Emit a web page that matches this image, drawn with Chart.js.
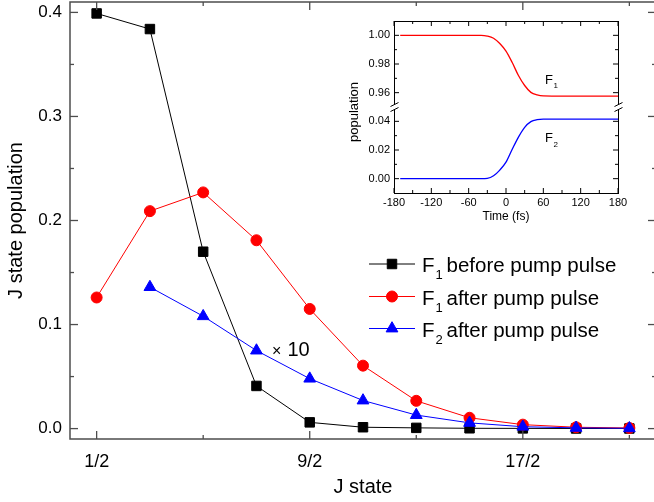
<!DOCTYPE html>
<html><head><meta charset="utf-8">
<script src="https://cdn.jsdelivr.net/npm/chart.js@4/dist/chart.umd.min.js"></script>
<style>
html,body{margin:0;padding:0;background:#fff;overflow:hidden;width:654px;height:502px;}
#wrap{position:relative;width:654px;height:502px;overflow:hidden;}
#main{position:absolute;left:0;top:0;}
#inset{position:absolute;left:340px;top:0;}
</style></head><body>
<div id="wrap"><canvas id="main" width="657" height="502"></canvas><canvas id="inset" width="290" height="232"></canvas></div>
<script>
// ---------- main chart data ----------
const jStates = [0.5, 1.5, 2.5, 3.5, 4.5, 5.5, 6.5, 7.5, 8.5, 9.5, 10.5];
const jTickValues = [0.5, 4.5, 8.5];
const jTickLabels = ['1/2', '9/2', '17/2'];
const jMinorTicks = [2.5, 6.5, 10.5];
const f1Before = [0.399, 0.384, 0.170, 0.041, 0.006, 0.0013, 0.0007, 0.0003, 0.0002, 0.0001, 0.0001];
const f1After  = [0.126, 0.209, 0.227, 0.181, 0.115, 0.0605, 0.0267, 0.0104, 0.0038, 0.0013, 0.0006];
const f2AfterX10 = [null, 0.136, 0.108, 0.075, 0.048, 0.027, 0.013, 0.0055, 0.0018, 0.0007, 0.0003];
const yTicksMain = [0.0, 0.1, 0.2, 0.3, 0.4];
const yMinorMain = [0.05, 0.15, 0.25, 0.35];
const legendSubs = ['1', '1', '2'];
const legendTexts = ['before pump pulse', 'after pump pulse', 'after pump pulse'];

// ---------- inset data ----------
const insetTime = [-170, -60, -40, -30, -20, -10, 0, 10, 20, 30, 40, 50, 60, 80, 120, 180];
const insetF1 = [1.000, 1.000, 1.000, 0.9995, 0.998, 0.9943, 0.989, 0.981, 0.972, 0.965, 0.9602, 0.9584, 0.9577, 0.9576, 0.9576, 0.9576];
const insetF2 = [0.000, 0.000, 0.000, 0.0002, 0.002, 0.006, 0.0115, 0.0205, 0.029, 0.0358, 0.0398, 0.0412, 0.0416, 0.0416, 0.0416, 0.0416];
const insetTimeTicks = [-180, -120, -60, 0, 60, 120, 180];
const insetTimeMinor = [-150, -90, -30, 30, 90, 150];
const insetUpperTicks = [0.96, 0.98, 1.00];
const insetUpperMinor = [0.97, 0.99];
const insetLowerTicks = [0.00, 0.02, 0.04];
const insetLowerMinor = [0.01, 0.03];

const FONT = "'Liberation Sans', Arial, sans-serif";
const pairs = (xs, ys) => xs.map((x, i) => ({x, y: ys[i]})).filter(p => p.y !== null);

function zeroPad(s) { s.paddingTop = 0; s.paddingBottom = 0; s.paddingLeft = 0; s.paddingRight = 0; }
function line(ctx, x1, y1, x2, y2) { ctx.beginPath(); ctx.moveTo(x1, y1); ctx.lineTo(x2, y2); ctx.stroke(); }

function marker(ctx, style, x, y, r, color) {
  ctx.fillStyle = color; ctx.strokeStyle = color; ctx.lineWidth = 1;
  ctx.beginPath();
  if (style === 'rect') { const h = r * Math.SQRT1_2; ctx.rect(x - h, y - h, 2 * h, 2 * h); }
  else if (style === 'circle') { ctx.arc(x, y, r, 0, Math.PI * 2); }
  else { ctx.moveTo(x, y - r); ctx.lineTo(x + r * Math.sqrt(3) / 2, y + r / 2); ctx.lineTo(x - r * Math.sqrt(3) / 2, y + r / 2); ctx.closePath(); }
  ctx.fill(); ctx.stroke();
}

const seriesStyle = [
  {color: '#000000', style: 'rect', r: 6.7},
  {color: '#ff0000', style: 'circle', r: 5.5},
  {color: '#0000ff', style: 'triangle', r: 6.8}
];

const mainDecor = {
  id: 'mainDecor',
  afterDraw(chart) {
    const {ctx, chartArea: a, scales: {x, y}} = chart;
    ctx.save();
    ctx.strokeStyle = '#4d4d4d'; ctx.lineWidth = 1.5;
    ctx.strokeRect(a.left, a.top, a.right - a.left, a.bottom - a.top);
    ctx.lineWidth = 1.3;
    jTickValues.forEach(v => { const p = x.getPixelForValue(v); line(ctx, p, a.bottom, p, a.bottom - 8); line(ctx, p, a.top, p, a.top + 8); });
    jMinorTicks.forEach(v => { const p = x.getPixelForValue(v); line(ctx, p, a.bottom, p, a.bottom - 4); line(ctx, p, a.top, p, a.top + 4); });
    yTicksMain.forEach(v => { const p = y.getPixelForValue(v); line(ctx, a.left, p, a.left + 8, p); line(ctx, a.right, p, a.right - 8, p); });
    yMinorMain.forEach(v => { const p = y.getPixelForValue(v); line(ctx, a.left, p, a.left + 4, p); line(ctx, a.right, p, a.right - 4, p); });

    // legend
    const rows = [264, 296.5, 328.5];
    rows.forEach((ry, i) => {
      const s = seriesStyle[i];
      ctx.strokeStyle = s.color; ctx.lineWidth = 1;
      line(ctx, 369, ry, 415, ry);
      marker(ctx, s.style, 392, ry, s.r, s.color);
      ctx.fillStyle = '#000';
      ctx.textBaseline = 'alphabetic'; ctx.textAlign = 'left';
      ctx.font = '20.5px ' + FONT;
      ctx.fillText('F', 422, ry + 8);
      const fw = ctx.measureText('F').width;
      ctx.font = '13px ' + FONT;
      ctx.fillText(legendSubs[i], 422 + fw + 1, ry + 15);
      ctx.font = '20.5px ' + FONT;
      ctx.fillText(legendTexts[i], 446.5, ry + 8);
    });
    // x10 annotation
    ctx.fillStyle = '#000';
    ctx.font = '16px ' + FONT;
    ctx.fillText('\u00d7', 272, 356);
    ctx.font = '20px ' + FONT;
    ctx.fillText('10', 287.5, 356);
    ctx.restore();
  }
};

new Chart(document.getElementById('main'), {
  type: 'line',
  data: {
    datasets: [
      {label: 'F2 after pump pulse', data: pairs(jStates, f2AfterX10), borderColor: '#0000ff', backgroundColor: '#0000ff',
       pointStyle: 'triangle', pointRadius: 6.8, pointBorderWidth: 1, borderWidth: 1, order: 1},
      {label: 'F1 after pump pulse', data: pairs(jStates, f1After), borderColor: '#ff0000', backgroundColor: '#ff0000',
       pointStyle: 'circle', pointRadius: 5.5, pointBorderWidth: 1, borderWidth: 1, order: 2},
      {label: 'F1 before pump pulse', data: pairs(jStates, f1Before), borderColor: '#000000', backgroundColor: '#000000',
       pointStyle: 'rect', pointRadius: 6.7, pointBorderWidth: 1, borderWidth: 1, order: 3}
    ]
  },
  options: {
    responsive: false, animation: false, devicePixelRatio: 1,
    layout: {padding: {left: 0, top: 2, right: 1, bottom: 0}, autoPadding: false},
    plugins: {legend: {display: false}, tooltip: {enabled: false}},
    scales: {
      x: {
        type: 'linear', min: 0, max: 11,
        grid: {display: false, drawTicks: false}, border: {display: false},
        afterBuildTicks: s => { s.ticks = jTickValues.map(v => ({value: v})); },
        afterFit: s => { s.height = 63; zeroPad(s); },
        ticks: {autoSkip: false, maxRotation: 0, padding: 12, color: '#000', font: {family: FONT, size: 18},
                callback: (v, i) => jTickLabels[i]},
        title: {display: true, text: 'J state', color: '#000', font: {family: FONT, size: 20}, padding: {top: 0, bottom: 3}}
      },
      y: {
        type: 'linear', min: -0.01, max: 0.41,
        grid: {display: false, drawTicks: false}, border: {display: false},
        afterBuildTicks: s => { s.ticks = yTicksMain.map(v => ({value: v})); },
        afterFit: s => { s.width = 70; zeroPad(s); },
        ticks: {padding: 8, color: '#000', font: {family: FONT, size: 17}, callback: v => v.toFixed(1)},
        title: {display: true, text: 'J state population', color: '#000', font: {family: FONT, size: 20}, padding: {top: 4, bottom: 0}}
      }
    }
  },
  plugins: [mainDecor]
});

// ---------- inset ----------
const insetDecor = {
  id: 'insetDecor',
  afterDraw(chart) {
    const {ctx, chartArea: a, scales: {x, yTop, yBot}} = chart;
    ctx.save();
    ctx.strokeStyle = '#000'; ctx.lineWidth = 1;
    ctx.strokeRect(a.left + 0.5, a.top + 0.5, a.right - a.left, a.bottom - a.top);
    insetTimeTicks.forEach(v => { const p = x.getPixelForValue(v); line(ctx, p, a.bottom, p, a.bottom - 5); line(ctx, p, a.top, p, a.top + 5); });
    insetTimeMinor.forEach(v => { const p = x.getPixelForValue(v); line(ctx, p, a.bottom, p, a.bottom - 3); line(ctx, p, a.top, p, a.top + 3); });
    const yt = (sc, vals, len) => vals.forEach(v => { const p = sc.getPixelForValue(v); line(ctx, a.left, p, a.left + len, p); line(ctx, a.right, p, a.right - len, p); });
    yt(yTop, insetUpperTicks, 5); yt(yTop, insetUpperMinor, 3);
    yt(yBot, insetLowerTicks, 5); yt(yBot, insetLowerMinor, 3);
    // break marks
    const by = yTop.bottom;
    [a.left + 0.5, a.right + 0.5].forEach(bx => {
      ctx.fillStyle = '#fff';
      ctx.fillRect(bx - 3, by - 2, 6, 4);
      ctx.strokeStyle = '#000'; ctx.lineWidth = 1;
      line(ctx, bx - 4, by - 0.5, bx + 4, by - 4.5);
      line(ctx, bx - 4, by + 4.5, bx + 4, by + 0.5);
    });
    // labels
    ctx.fillStyle = '#000'; ctx.textAlign = 'left'; ctx.textBaseline = 'alphabetic';
    ctx.font = '13px ' + FONT;
    ctx.fillText('F', 205, 83.5);
    ctx.fillText('F', 205, 142);
    ctx.font = '8px ' + FONT;
    ctx.fillText('1', 213.5, 88);
    ctx.fillText('2', 213.5, 146.5);
    ctx.save();
    ctx.translate(14, 112);
    ctx.rotate(-Math.PI / 2);
    ctx.textAlign = 'center'; ctx.textBaseline = 'middle';
    ctx.font = '13px ' + FONT;
    ctx.fillText('population', 0, 0);
    ctx.restore();
    ctx.restore();
  }
};

new Chart(document.getElementById('inset'), {
  type: 'line',
  data: {
    datasets: [
      {label: 'F1', data: pairs(insetTime, insetF1), yAxisID: 'yTop', borderColor: '#ff0000', borderWidth: 1.3,
       pointRadius: 0, cubicInterpolationMode: 'monotone'},
      {label: 'F2', data: pairs(insetTime, insetF2), yAxisID: 'yBot', borderColor: '#0000ff', borderWidth: 1.3,
       pointRadius: 0, cubicInterpolationMode: 'monotone'}
    ]
  },
  options: {
    responsive: false, animation: false, devicePixelRatio: 1,
    layout: {padding: {left: 0, top: 21, right: 12, bottom: 0}, autoPadding: false},
    plugins: {legend: {display: false}, tooltip: {enabled: false}},
    scales: {
      x: {
        type: 'linear', min: -180, max: 180,
        grid: {display: false, drawTicks: false}, border: {display: false},
        afterBuildTicks: s => { s.ticks = insetTimeTicks.map(v => ({value: v})); },
        afterFit: s => { s.height = 39; zeroPad(s); },
        ticks: {autoSkip: false, maxRotation: 0, padding: 3, color: '#000', font: {family: FONT, size: 11}},
        title: {display: true, text: 'Time (fs)', color: '#000', font: {family: FONT, size: 12}, padding: {top: 0, bottom: 8}}
      },
      yBot: {
        type: 'linear', position: 'left', stack: 'pop', stackWeight: 1, min: -0.01, max: 0.05,
        grid: {display: false, drawTicks: false}, border: {display: false},
        afterBuildTicks: s => { s.ticks = insetLowerTicks.map(v => ({value: v})); },
        afterFit: s => { s.width = 54; zeroPad(s); },
        ticks: {padding: 4, color: '#000', font: {family: FONT, size: 11}, callback: v => v.toFixed(2)}
      },
      yTop: {
        type: 'linear', position: 'left', stack: 'pop', stackWeight: 1, min: 0.95, max: 1.01,
        grid: {display: false, drawTicks: false}, border: {display: false},
        afterBuildTicks: s => { s.ticks = insetUpperTicks.map(v => ({value: v})); },
        afterFit: s => { s.width = 54; zeroPad(s); },
        ticks: {padding: 4, color: '#000', font: {family: FONT, size: 11}, callback: v => v.toFixed(2)}
      }
    }
  },
  plugins: [insetDecor]
});
</script>
</body></html>
